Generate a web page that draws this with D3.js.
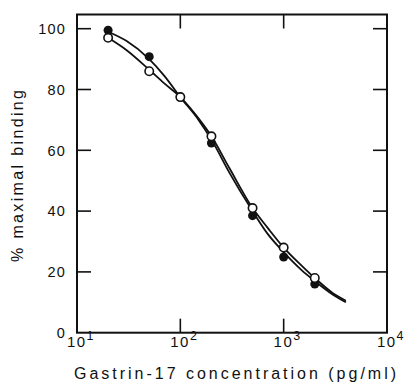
<!DOCTYPE html>
<html><head><meta charset="utf-8">
<script src="https://cdn.jsdelivr.net/npm/d3@7"></script>
<style>body{margin:0;background:#fff;} svg{display:block;} text{font-family:"Liberation Sans",Arial,sans-serif;fill:#111;}</style>
</head><body><svg id="c" width="412" height="385"></svg>
<script>
// Data
const concentrations = [20, 50, 100, 200, 500, 1000, 2000];
const filledValues = [99.5, 90.8, 77.5, 62.4, 38.5, 24.9, 16];
const openValues = [97, 86, 77.5, 64.6, 41, 28, 18];
const curveX = [20, 30, 50, 70, 100, 150, 200, 300, 500, 700, 1000, 1500, 2000, 3000, 4000];
const curveFilled = [99, 96, 90, 84.5, 77.5, 70, 63.5, 52.5, 40, 32.5, 26.5, 20.5, 17, 12.5, 10];
const curveOpen = [97, 93, 86.5, 82, 77.5, 70.5, 64.6, 54, 41, 34.5, 28, 22, 18, 13, 10.5];
const yTicks = [0, 20, 40, 60, 80, 100];
const xTicks = [10, 100, 1000, 10000];
const xExp = ["1", "2", "3", "4"];

const svg = d3.select("#c");
const L = 77, R = 387, T = 14.5, B = 332.7;
const x = d3.scaleLog().domain([10, 10000]).range([L, R]);
const y = d3.scaleLinear().domain([0, 100]).range([B, 28.7]);

// frame
svg.append("rect").attr("x", L).attr("y", T).attr("width", R - L).attr("height", B - T)
  .attr("fill", "none").attr("stroke", "#111").attr("stroke-width", 2);

// inward ticks
const tk = 14;
const g = svg.append("g").attr("stroke", "#111").attr("stroke-width", 1.6);
yTicks.filter(v => v > 0).forEach(v => {
  g.append("line").attr("x1", L).attr("x2", L + tk).attr("y1", y(v)).attr("y2", y(v));
  g.append("line").attr("x1", R - tk).attr("x2", R).attr("y1", y(v)).attr("y2", y(v));
});
xTicks.filter(v => v > 10 && v < 10000).forEach(v => {
  g.append("line").attr("x1", x(v)).attr("x2", x(v)).attr("y1", B).attr("y2", B - tk);
  g.append("line").attr("x1", x(v)).attr("x2", x(v)).attr("y1", T).attr("y2", T + tk);
});

// y tick labels
yTicks.forEach(v => {
  svg.append("text").attr("x", 66).attr("y", y(v)).attr("dy", "0.36em")
    .attr("text-anchor", "end").attr("font-size", 14.5).attr("letter-spacing", 1.2)
    .text(v);
});
// x tick labels
xTicks.forEach((v, i) => {
  const t = svg.append("text").attr("x", x(v) + 4).attr("y", 347).attr("text-anchor", "middle")
    .attr("font-size", 15).attr("letter-spacing", 1.5);
  t.append("tspan").text("10");
  t.append("tspan").attr("dy", -7).attr("font-size", 12.5).text(xExp[i]);
});

// axis titles
svg.append("text").attr("x", 235).attr("y", 379).attr("text-anchor", "middle")
  .attr("font-size", 16).attr("textLength", 322).attr("lengthAdjust", "spacing")
  .text("Gastrin-17 concentration (pg/ml)");
svg.append("text").attr("transform", "translate(23,176) rotate(-90)").attr("text-anchor", "middle")
  .attr("font-size", 16).attr("textLength", 172).attr("lengthAdjust", "spacing")
  .text("% maximal binding");

// curves
const line = d3.line().x(d => x(d[0])).y(d => y(d[1])).curve(d3.curveMonotoneX);
[curveFilled, curveOpen].forEach(c => {
  svg.append("path").datum(curveX.map((cx, i) => [cx, c[i]]))
    .attr("d", line).attr("fill", "none").attr("stroke", "#111").attr("stroke-width", 1.8);
});

// points
svg.selectAll(".f").data(concentrations.map((c, i) => [c, filledValues[i]])).join("circle")
  .attr("cx", d => x(d[0])).attr("cy", d => y(d[1])).attr("r", 4.5).attr("fill", "#111");
svg.selectAll(".o").data(concentrations.map((c, i) => [c, openValues[i]])).join("circle")
  .attr("cx", d => x(d[0])).attr("cy", d => y(d[1])).attr("r", 4.2)
  .attr("fill", "#fff").attr("stroke", "#111").attr("stroke-width", 1.6);
</script></body></html>
